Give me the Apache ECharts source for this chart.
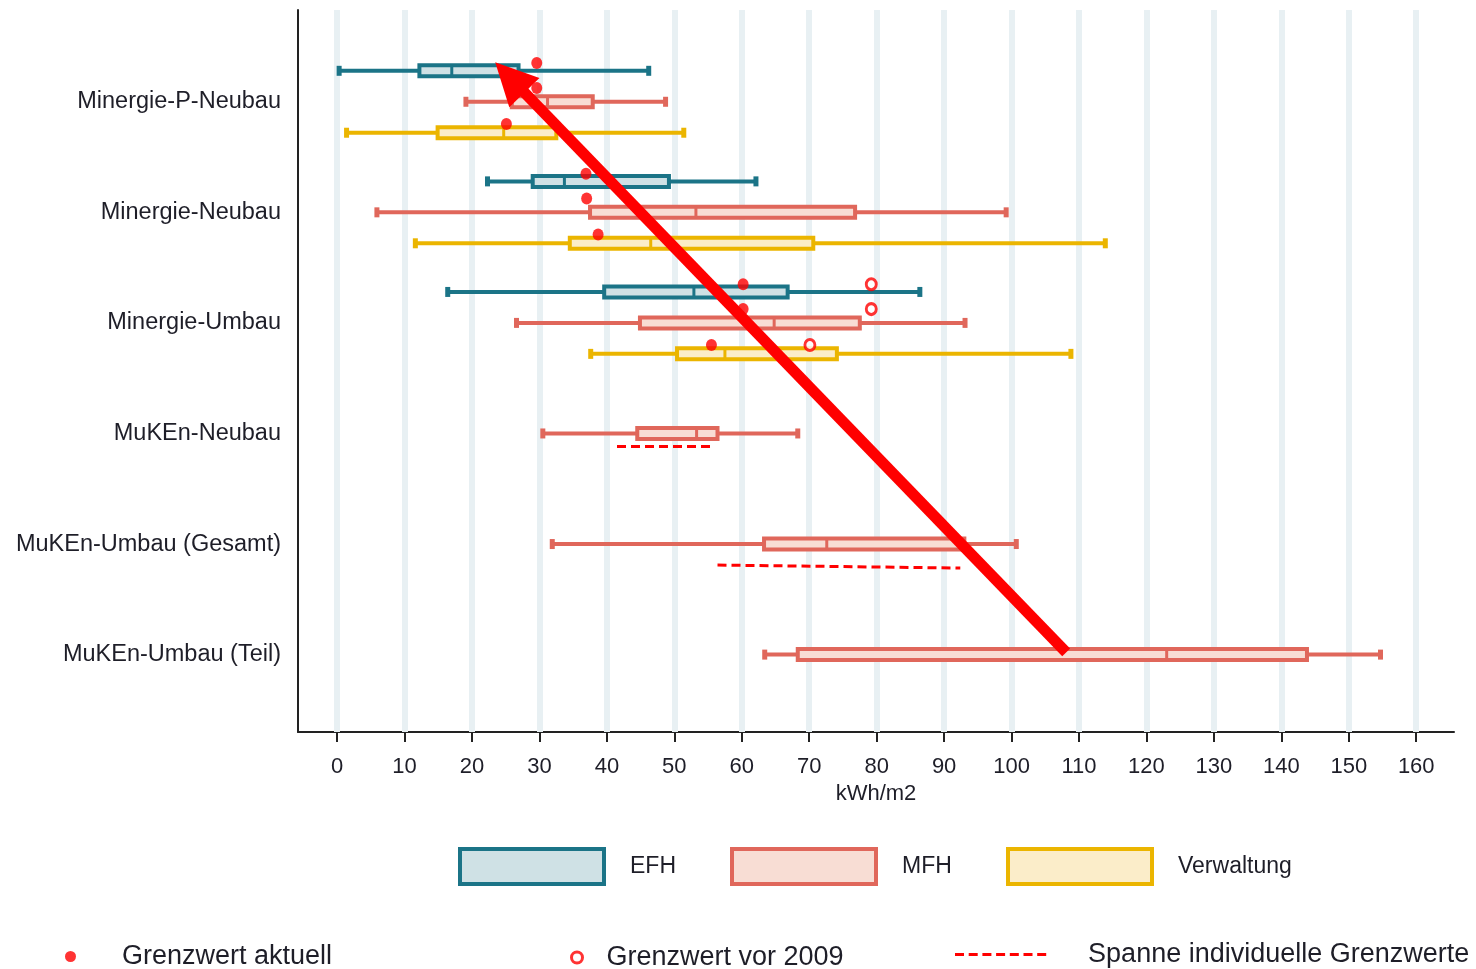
<!DOCTYPE html>
<html>
<head>
<meta charset="utf-8">
<title>Energiekennzahlen Minergie / MuKEn</title>
<script src="https://cdn.jsdelivr.net/npm/echarts@6/dist/echarts.min.js"></script>
<style>
  html, body { margin: 0; padding: 0; background: #fff; }
  #chart { width: 1476px; height: 969px; }
</style>
</head>
<body>
<div id="chart"></div>
<script>
const categories = [
  "Minergie-P-Neubau",
  "Minergie-Neubau",
  "Minergie-Umbau",
  "MuKEn-Neubau",
  "MuKEn-Umbau (Gesamt)",
  "MuKEn-Umbau (Teil)",
];
const xTicks = [0, 10, 20, 30, 40, 50, 60, 70, 80, 90, 100, 110, 120, 130, 140, 150, 160];

// [min, q1, median, q3, max] je Kategorie (null = keine Daten)
const efhStats = [
  [0.3, 12.2, 17.0, 26.9, 46.2],
  [22.3, 29.0, 33.7, 49.2, 62.1],
  [16.4, 39.6, 52.9, 66.8, 86.4],
  null, null, null,
];
const mfhStats = [
  [19.1, 25.9, 31.2, 37.9, 48.7],
  [5.9, 37.5, 53.2, 76.8, 99.2],
  [26.6, 44.9, 64.8, 77.5, 93.1],
  [30.5, 44.5, 53.3, 56.4, 68.3],
  [31.9, 63.3, 72.6, 93.0, 100.7],
  [63.4, 68.3, 123.0, 143.8, 154.7],
];
const verwStats = [
  [1.4, 14.9, 24.7, 32.5, 51.4],
  [11.6, 34.5, 46.5, 70.6, 113.9],
  [37.6, 50.4, 57.5, 74.1, 108.8],
  null, null, null,
];

// Grenzwert aktuell / vor 2009 (kWh/m2) je Kategorie
const aktuellEFH = [29.6, 36.9, 60.2];
const aktuellMFH = [29.6, 37.0, 60.2];
const aktuellVerw = [25.1, 38.7, 55.5];
const vor2009EFH = [null, null, 79.2];
const vor2009MFH = [null, null, 79.2];
const vor2009Verw = [null, null, 70.1];

// Spanne individuelle Grenzwerte: Kategorie, von, bis
const spanneRows = [3, 4];
const spanneVon = [41.5, 56.4];
const spanneBis = [55.6, 92.4];

// Pfeil (Annotation) in Achsenwerten
const arrowFrom = [108.1, 4.98];
const arrowTo = [25.6, -0.22];

// Layout (vertikaler Versatz innerhalb einer Kategorie)
const boxOffset = { EFH: -0.28, MFH: 0, Verwaltung: 0.28 };
const dotOffset = { EFH: -0.35, MFH: -0.125, Verwaltung: 0.2 };
const spanneOffset = [[0.118, 0.118], [0.19, 0.217]];

const colors = {
  EFH: { stroke: "#1b7487", fill: "#cfe1e5" },
  MFH: { stroke: "#e0675b", fill: "#f8ddd4" },
  Verwaltung: { stroke: "#ebb500", fill: "#fbedc9" },
};
const red = "#ff0000";
const textColor = "#1e1e28";
const font = "Liberation Sans, Arial, sans-serif";

// gestricheltes Legendensymbol
let dashIcon = "path://";
for (let i = 0; i < 7; i++) {
  const x = i * 13.7;
  dashIcon += "M" + x + ",0h9v3h-9z";
}

function boxData(stats, off) {
  const out = [];
  stats.forEach((s, i) => {
    if (s) out.push([i + off].concat(s));
  });
  return out;
}

function boxRenderer(stroke, fill) {
  return function (params, api) {
    const y = api.value(0);
    const p = [1, 2, 3, 4, 5].map((i) => api.coord([api.value(i), y]));
    const cy = p[0][1];
    const h = 11;
    const hline = (x1, x2) => ({
      type: "line",
      shape: { x1: x1, y1: cy, x2: x2, y2: cy },
      style: { stroke: stroke, lineWidth: 4 },
    });
    const cap = (x) => ({
      type: "rect",
      shape: { x: x - 2.5, y: cy - 5, width: 5, height: 10 },
      style: { fill: stroke },
    });
    return {
      type: "group",
      children: [
        hline(p[0][0], p[1][0]),
        hline(p[3][0], p[4][0]),
        cap(p[0][0]),
        cap(p[4][0]),
        {
          type: "rect",
          shape: { x: p[1][0], y: cy - h / 2, width: p[3][0] - p[1][0], height: h },
          style: { fill: fill, stroke: stroke, lineWidth: 4 },
        },
        {
          type: "line",
          shape: { x1: p[2][0], y1: cy - h / 2, x2: p[2][0], y2: cy + h / 2 },
          style: { stroke: stroke, lineWidth: 3 },
        },
      ],
    };
  };
}

function boxSeries(name, stats) {
  return {
    name: name,
    type: "custom",
    z: 3,
    renderItem: boxRenderer(colors[name].stroke, colors[name].fill),
    encode: { x: [1, 2, 3, 4, 5], y: 0 },
    data: boxData(stats, boxOffset[name]),
    silent: true,
  };
}

function dotData(lists) {
  const out = [];
  lists.forEach(([vals, off]) => {
    vals.forEach((v, i) => {
      if (v != null) out.push([v, i + off]);
    });
  });
  return out;
}

const aktuellData = dotData([
  [aktuellEFH, dotOffset.EFH],
  [aktuellMFH, dotOffset.MFH],
  [aktuellVerw, dotOffset.Verwaltung],
]);
const vor2009Data = dotData([
  [vor2009EFH, dotOffset.EFH],
  [vor2009MFH, dotOffset.MFH],
  [vor2009Verw, dotOffset.Verwaltung],
]);

const spanneSeries = spanneRows.map((row, i) => ({
  name: "Spanne individuelle Grenzwerte",
  type: "line",
  z: 4,
  symbol: "none",
  silent: true,
  lineStyle: { color: red, width: 3, type: [9, 5] },
  itemStyle: { color: red },
  data: [
    [spanneVon[i], row + spanneOffset[i][0]],
    [spanneBis[i], row + spanneOffset[i][1]],
  ],
}));

function legendBox(name, left) {
  return {
    left: left,
    top: 847,
    padding: 0,
    itemWidth: 144,
    itemHeight: 35,
    selectedMode: false,
    textStyle: { fontSize: 23, color: textColor, fontFamily: font, padding: [0, 0, 0, 21] },
    data: [{
      name: name,
      icon: "rect",
      itemStyle: { color: colors[name].fill, borderColor: colors[name].stroke, borderWidth: 4 },
    }],
  };
}

const chart = echarts.init(document.getElementById("chart"));
chart.setOption({
  animation: false,
  textStyle: { fontFamily: font },
  grid: { left: 298, right: 22, top: 10, bottom: 237 },
  xAxis: {
    type: "value",
    min: -5.8,
    max: 165.6,
    name: "kWh/m2",
    nameLocation: "middle",
    nameGap: 51,
    nameTextStyle: { fontSize: 22, color: textColor },
    axisLine: { show: true, onZero: false, lineStyle: { color: "#222", width: 2 } },
    axisTick: { show: true, customValues: xTicks, length: 10, lineStyle: { color: "#222", width: 2 } },
    axisLabel: { customValues: xTicks, fontSize: 22, color: textColor, margin: 24 },
    splitLine: { show: false },
  },
  yAxis: {
    type: "value",
    inverse: true,
    min: -0.83,
    max: 5.7,
    axisLine: { show: true, onZero: false, lineStyle: { color: "#222", width: 2 } },
    axisTick: { show: false },
    splitLine: { show: false },
    axisLabel: {
      customValues: [0, 1, 2, 3, 4, 5],
      formatter: (v) => categories[Math.round(v)],
      fontSize: 23.5,
      color: textColor,
      margin: 17,
      padding: [7, 0, 0, 0],
    },
  },
  legend: [
    legendBox("EFH", 458),
    legendBox("MFH", 730),
    legendBox("Verwaltung", 1006),
    {
      left: 65, top: 943, padding: 0, itemWidth: 11, itemHeight: 14, selectedMode: false,
      textStyle: { fontSize: 27, color: textColor, fontFamily: font, padding: [0, 0, 0, 41] },
      data: [{ name: "Grenzwert aktuell", icon: "circle", itemStyle: { color: red } }],
    },
    {
      left: 570, top: 944, padding: 0, itemWidth: 11, itemHeight: 13, selectedMode: false,
      textStyle: { fontSize: 27, color: textColor, fontFamily: font, padding: [0, 0, 0, 19] },
      data: [{
        name: "Grenzwert vor 2009", icon: "circle",
        itemStyle: { color: "#fff", borderColor: red, borderWidth: 3 },
      }],
    },
    {
      left: 955, top: 941, padding: 0, itemWidth: 95, itemHeight: 3, selectedMode: false,
      textStyle: { fontSize: 27, color: textColor, fontFamily: font, padding: [0, 0, 0, 35] },
      data: [{ name: "Spanne individuelle Grenzwerte", icon: dashIcon, itemStyle: { color: red } }],
    },
  ],
  series: [
    {
      name: "gitter",
      type: "line",
      z: 1,
      data: [],
      silent: true,
      markLine: {
        z: 1,
        silent: true,
        symbol: "none",
        label: { show: false },
        lineStyle: { color: "#e8f0f3", width: 6, type: "solid" },
        emphasis: { disabled: true },
        data: xTicks.map((v) => ({ xAxis: v })),
      },
    },
    boxSeries("EFH", efhStats),
    boxSeries("MFH", mfhStats),
    boxSeries("Verwaltung", verwStats),
    ...spanneSeries,
    {
      name: "Grenzwert aktuell",
      type: "scatter",
      z: 5,
      symbol: "circle",
      symbolSize: [11, 12],
      itemStyle: { color: red },
      silent: true,
      data: aktuellData,
    },
    {
      name: "Grenzwert vor 2009",
      type: "scatter",
      z: 5,
      symbol: "circle",
      symbolSize: [10, 11],
      itemStyle: { color: "#fff", borderColor: red, borderWidth: 3 },
      silent: true,
      data: vor2009Data,
    },
    {
      name: "pfeil",
      type: "line",
      z: 10,
      data: [],
      silent: true,
      markLine: {
        z: 10,
        silent: true,
        symbol: ["none", "triangle"],
        symbolSize: 42,
        label: { show: false },
        emphasis: { disabled: true },
        lineStyle: { color: red, width: 11, type: "solid", opacity: 1 },
        data: [[{ coord: arrowFrom }, { coord: arrowTo }]],
      },
    },
  ],
});
</script>
</body>
</html>
